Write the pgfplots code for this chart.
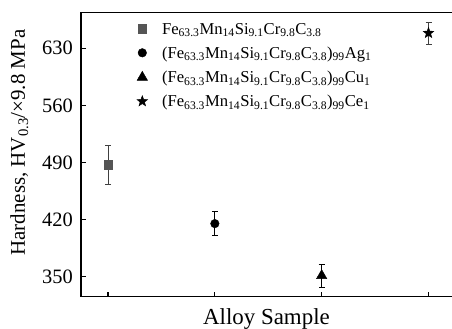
\documentclass[border=0pt]{standalone}
\usepackage{pgfplots}
\pgfplotsset{compat=1.18}
\usepackage{fontspec}
\setmainfont{Liberation Serif}
\definecolor{sqgray}{HTML}{555555}
\definecolor{ebgray}{HTML}{404040}
\pgfdeclareplotmark{fstar}{%
  \pgfpathmoveto{\pgfpointpolar{90}{\pgfplotmarksize}}%
  \pgfpathlineto{\pgfpointpolar{126}{0.42\pgfplotmarksize}}%
  \pgfpathlineto{\pgfpointpolar{162}{\pgfplotmarksize}}%
  \pgfpathlineto{\pgfpointpolar{198}{0.42\pgfplotmarksize}}%
  \pgfpathlineto{\pgfpointpolar{234}{\pgfplotmarksize}}%
  \pgfpathlineto{\pgfpointpolar{270}{0.42\pgfplotmarksize}}%
  \pgfpathlineto{\pgfpointpolar{306}{\pgfplotmarksize}}%
  \pgfpathlineto{\pgfpointpolar{342}{0.42\pgfplotmarksize}}%
  \pgfpathlineto{\pgfpointpolar{18}{\pgfplotmarksize}}%
  \pgfpathlineto{\pgfpointpolar{54}{0.42\pgfplotmarksize}}%
  \pgfpathclose
  \pgfusepathqfillstroke}
\begin{document}
\begin{tikzpicture}
\begin{axis}[
  name=ax,
  scale only axis, width=371bp, height=284.4bp,
  xmin=0.747, xmax=4.22, ymin=325.5, ymax=674.1,
  axis y line*=left, axis x line*=box,
  axis line style={line width=1.4bp},
  xtick={1,2,3,4}, xticklabels={}, xtick pos=left, ytick pos=left,
  ytick={350,420,490,560,630},
  tick align=inside, major tick length=5bp,
  tick style={line width=1.1bp, black},
  yticklabel style={font=\fontsize{20.5}{24}\selectfont, inner sep=0pt, xshift=-8bp},
  /pgf/number format/assume math mode=true,
  xlabel={Alloy Sample},
  xlabel style={at={(axis description cs:0.5,0)}, anchor=north, inner sep=0pt, yshift=-12bp, font=\fontsize{23}{26}\selectfont},
  ylabel={Hardness, HV\textsubscript{0.3}/×9.8 MPa},
  ylabel style={at={(axis description cs:-0.151,0.542)}, anchor=base, inner sep=0pt, font=\fontsize{21}{24}\selectfont},
  legend image code/.code={\path (0bp,-1bp) (12bp,1bp); \draw[mark repeat=2,mark phase=2,#1] plot coordinates {(0bp,0bp)(6bp,0bp)(12bp,0bp)};},
  legend cell align=left,
  legend style={draw=none, fill=none, inner sep=0pt, at={(axis description cs:0.148,0.962)}, anchor=north west,
    nodes={inner sep=0pt, text height=11bp, text depth=0bp, font=\fontsize{16.7}{20}\selectfont},
    row sep=13bp, column sep=0bp},
  legend style={/tikz/every odd column/.append style={column sep=13.5bp}},
  clip=false,
]
\addplot[only marks, mark=square*, mark size=4.2bp, color=sqgray,
  error bars/.cd, y dir=both, y explicit,
  error bar style={line width=0.9bp, ebgray},
  error mark options={rotate=90, mark size=3bp, line width=0.9bp, ebgray}]
  coordinates {(1,487.2) +- (0,24)};
\addlegendentry{Fe\textsubscript{63.3}Mn\textsubscript{14}Si\textsubscript{9.1}Cr\textsubscript{9.8}C\textsubscript{3.8}}
\addplot[only marks, mark=*, mark size=4.3bp, color=black,
  error bars/.cd, y dir=both, y explicit,
  error bar style={line width=0.9bp, black},
  error mark options={rotate=90, mark size=3bp, line width=0.9bp, black}]
  coordinates {(2,415.1) +- (0,15)};
\addlegendentry{(Fe\textsubscript{63.3}Mn\textsubscript{14}Si\textsubscript{9.1}Cr\textsubscript{9.8}C\textsubscript{3.8})\textsubscript{99}Ag\textsubscript{1}}
\addplot[only marks, mark=triangle*, mark size=6bp, color=black,
  error bars/.cd, y dir=both, y explicit,
  error bar style={line width=0.9bp, black},
  error mark options={rotate=90, mark size=3bp, line width=0.9bp, black}]
  coordinates {(3,351.3) +- (0,14)};
\addlegendentry{(Fe\textsubscript{63.3}Mn\textsubscript{14}Si\textsubscript{9.1}Cr\textsubscript{9.8}C\textsubscript{3.8})\textsubscript{99}Cu\textsubscript{1}}
\addplot[only marks, mark=fstar, mark size=5.5bp, color=black, mark options={line width=0.5bp},
  error bars/.cd, y dir=both, y explicit,
  error bar style={line width=0.9bp, ebgray},
  error mark options={rotate=90, mark size=3bp, line width=0.9bp, ebgray}]
  coordinates {(4,648.7) +- (0,13.5)};
\addlegendentry{(Fe\textsubscript{63.3}Mn\textsubscript{14}Si\textsubscript{9.1}Cr\textsubscript{9.8}C\textsubscript{3.8})\textsubscript{99}Ce\textsubscript{1}}
\end{axis}
\pgfresetboundingbox
\path ([xshift=-81bp,yshift=-32.3bp]ax.south west) rectangle ++(452bp,329bp);
\end{tikzpicture}
\end{document}
